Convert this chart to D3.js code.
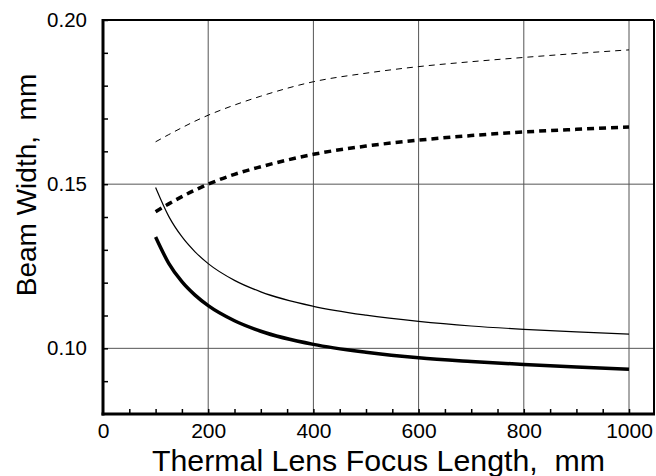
<!DOCTYPE html>
<html lang="en">
<head>
<meta charset="utf-8">
<title>Beam Width vs Thermal Lens</title>
<style>
  body {margin: 0; background: #fff;}
  svg  {display: block; font-family: "Liberation Sans", Arial, sans-serif;}
  .grid line {stroke: #555; stroke-width: 1;}
  .tick text {fill: #000;}
</style>
</head>
<body>
<svg id="chart" width="656" height="476"></svg>
<script src="https://d3js.org/d3.v7.min.js"></script>
<script>
// focus length of the thermal lens, mm
const focus = [100, 125, 150, 175, 200, 250, 300, 400, 500, 600, 700, 800, 900, 1000];

// beam width, mm (four curves)
const thinDashed  = [0.1629, 0.1651, 0.1672, 0.1692, 0.1710, 0.1741, 0.1768, 0.1812, 0.1838, 0.1858, 0.1873, 0.1886, 0.1898, 0.1909];
const thickDashed = [0.1416, 0.1440, 0.1462, 0.1482, 0.1500, 0.1530, 0.1553, 0.1591, 0.1616, 0.1634, 0.1648, 0.1659, 0.1667, 0.1674];
const thinSolid   = [0.1490, 0.1402, 0.1340, 0.1294, 0.1258, 0.1207, 0.1172, 0.1128, 0.1101, 0.1082, 0.1068, 0.1058, 0.1050, 0.1043];
const thickSolid  = [0.1339, 0.1259, 0.1203, 0.1162, 0.1130, 0.1084, 0.1052, 0.1012, 0.0988, 0.0971, 0.0960, 0.0951, 0.0943, 0.0936];

const xTicks = [0, 200, 400, 600, 800, 1000];
const yTicks = [0.10, 0.15, 0.20];
const xGrid  = [200, 400, 600, 800, 1000];
const yGrid  = [0.10, 0.15];

const svg = d3.select("#chart");
const pLeft = 103, pRight = 654, pTop = 20, pBottom = 414;

const x = d3.scaleLinear().domain([0, 1047.5]).range([pLeft, pRight]);
const y = d3.scaleLinear().domain([0.08, 0.20]).range([pBottom, pTop]);

// grid
const grid = svg.append("g").attr("class", "grid");
grid.selectAll(".gx").data(xGrid).join("line")
  .attr("x1", d => x(d)).attr("x2", d => x(d))
  .attr("y1", pTop).attr("y2", pBottom);
grid.selectAll(".gy").data(yGrid).join("line")
  .attr("x1", pLeft).attr("x2", pRight)
  .attr("y1", d => y(d)).attr("y2", d => y(d));

// minor ticks (inward)
svg.append("g")
  .attr("transform", `translate(0,${pBottom})`)
  .call(d3.axisBottom(x).tickValues(d3.range(50, 1001, 50)).tickSize(-5).tickFormat(""))
  .call(g => g.select(".domain").remove())
  .call(g => g.selectAll("line").attr("stroke", "#000").attr("stroke-width", 1.5));
svg.append("g")
  .attr("transform", `translate(${pLeft},0)`)
  .call(d3.axisLeft(y).tickValues(d3.range(0.09, 0.20, 0.01)).tickSize(-5).tickFormat(""))
  .call(g => g.select(".domain").remove())
  .call(g => g.selectAll("line").attr("stroke", "#000").attr("stroke-width", 1.5));

// tick labels
svg.append("g")
  .attr("transform", `translate(0,${pBottom})`)
  .call(d3.axisBottom(x).tickValues(xTicks).tickSize(0).tickPadding(9).tickFormat(d3.format("d")))
  .call(g => g.select(".domain").remove())
  .call(g => g.selectAll("text").attr("font-size", 21).attr("font-family", "Liberation Sans, Arial, sans-serif"));
svg.append("g")
  .attr("transform", `translate(${pLeft},0)`)
  .call(d3.axisLeft(y).tickValues(yTicks).tickSize(0).tickPadding(16).tickFormat(d3.format(".2f")))
  .call(g => g.select(".domain").remove())
  .call(g => g.selectAll("text").attr("font-size", 20.5).attr("font-family", "Liberation Sans, Arial, sans-serif"));

// frame
svg.append("line").attr("x1", pLeft).attr("x2", pRight).attr("y1", pTop).attr("y2", pTop)
  .attr("stroke", "#000").attr("stroke-width", 2);
svg.append("line").attr("x1", pRight).attr("x2", pRight).attr("y1", pTop).attr("y2", pBottom)
  .attr("stroke", "#000").attr("stroke-width", 2);
svg.append("line").attr("x1", pLeft).attr("x2", pLeft).attr("y1", pTop - 1).attr("y2", pBottom + 1.5)
  .attr("stroke", "#000").attr("stroke-width", 3);
svg.append("line").attr("x1", pLeft - 1.5).attr("x2", pRight + 1).attr("y1", pBottom).attr("y2", pBottom)
  .attr("stroke", "#000").attr("stroke-width", 3);

// curves
const line = d3.line().curve(d3.curveMonotoneX)
  .x((d, i) => x(focus[i])).y(d => y(d));

const series = [
  {v: thinDashed,  w: 1,   dash: "6,5"},
  {v: thickDashed, w: 3.5, dash: "7,5"},
  {v: thinSolid,   w: 1.2, dash: null},
  {v: thickSolid,  w: 3.5, dash: null}
];
svg.append("g").selectAll("path").data(series).join("path")
  .attr("d", d => line(d.v))
  .attr("fill", "none")
  .attr("stroke", "#000")
  .attr("stroke-width", d => d.w)
  .attr("stroke-dasharray", d => d.dash);

// axis titles
svg.append("text")
  .attr("x", 378.5).attr("y", 471)
  .attr("text-anchor", "middle").attr("font-size", 30.3)
  .attr("xml:space", "preserve")
  .text("Thermal Lens Focus Length,  mm");
svg.append("text")
  .attr("transform", "translate(36,185) rotate(-90)")
  .attr("text-anchor", "middle").attr("font-size", 28)
  .attr("xml:space", "preserve")
  .text("Beam Width,  mm");
</script>
</body>
</html>
